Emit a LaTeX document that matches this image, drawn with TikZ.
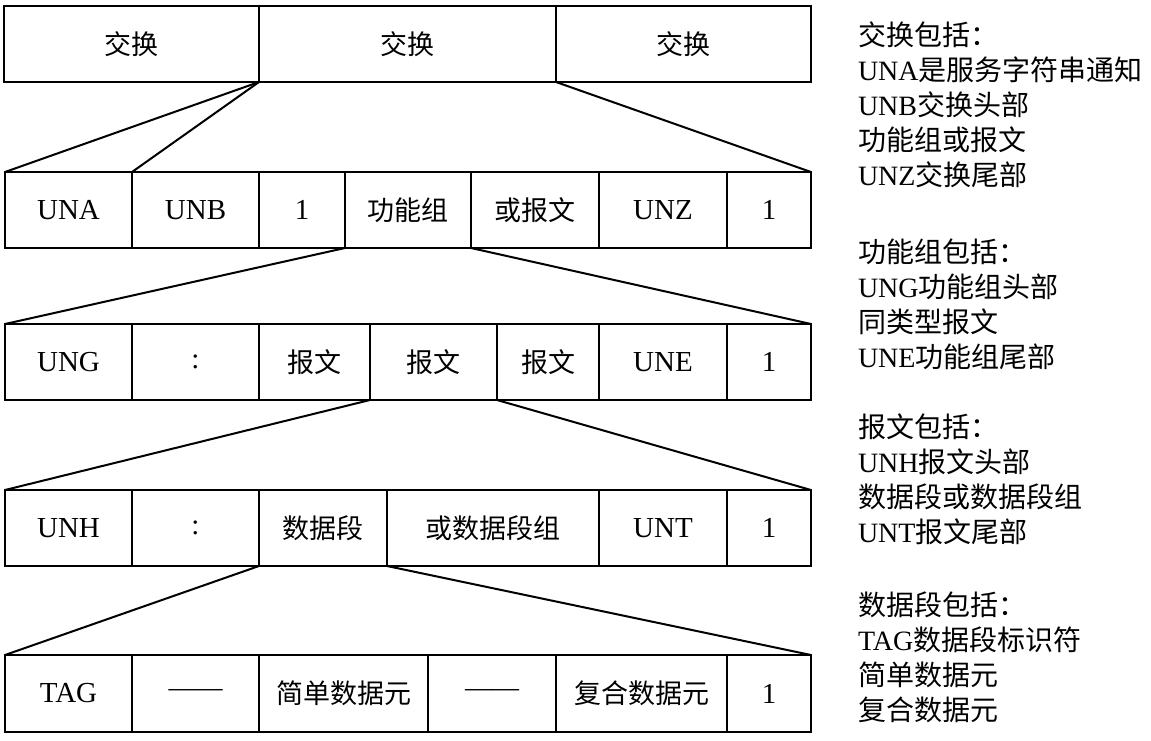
\documentclass[tikz,border=0pt]{standalone}
\usepackage{fontspec}
\setmainfont{Liberation Serif}
\newfontfamily\cjk{Noto Sans CJK SC}
\newcommand\zh[1]{{\cjk #1}}
\newcommand\zc[1]{{\cjk\fontsize{27}{30}\selectfont #1}}
\begin{document}
\begin{tikzpicture}[x=1pt,y=-1pt,
  cell/.style={draw, line width=2pt, inner sep=0pt, outer sep=0pt,
    font=\fontsize{29}{30}\selectfont},
  note/.style={inner sep=0pt, outer sep=0pt, anchor=base west,
    font=\fontsize{28}{35}\selectfont},
  link/.style={line width=2pt}]
\useasboundingbox (0,0) rectangle (1151,740);
\fill[white] (0,0) rectangle (1151,740);
% row 1
\node[cell, minimum width=255, minimum height=76] (r1a) at (131.5,44) {\zc{交换}};
\node[cell, minimum width=297, minimum height=76] (r1b) at (407.5,44) {\zc{交换}};
\node[cell, minimum width=255, minimum height=76] (r1c) at (683.5,44) {\zc{交换}};
% row 2
\node[cell, minimum width=127, minimum height=76] (r2a) at (68.5,210) {UNA};
\node[cell, minimum width=127, minimum height=76] (r2b) at (195.5,210) {UNB};
\node[cell, minimum width=86, minimum height=76] (r2c) at (302,210) {1};
\node[cell, minimum width=126, minimum height=76] (r2d) at (408,210) {\zc{功能组}};
\node[cell, minimum width=128, minimum height=76] (r2e) at (535,210) {\zc{或报文}};
\node[cell, minimum width=128, minimum height=76] (r2f) at (663,210) {UNZ};
\node[cell, minimum width=84, minimum height=76] (r2g) at (769,210) {1};
% row 3
\node[cell, minimum width=127, minimum height=76] (r3a) at (68.5,362) {UNG};
\node[cell, minimum width=127, minimum height=76] (r3b) at (195.5,362) {:};
\node[cell, minimum width=111, minimum height=76] (r3c) at (314.5,362) {\zc{报文}};
\node[cell, minimum width=127, minimum height=76] (r3d) at (433.5,362) {\zc{报文}};
\node[cell, minimum width=102, minimum height=76] (r3e) at (548,362) {\zc{报文}};
\node[cell, minimum width=128, minimum height=76] (r3f) at (663,362) {UNE};
\node[cell, minimum width=84, minimum height=76] (r3g) at (769,362) {1};
% row 4
\node[cell, minimum width=127, minimum height=76] (r4a) at (68.5,528) {UNH};
\node[cell, minimum width=127, minimum height=76] (r4b) at (195.5,528) {:};
\node[cell, minimum width=128, minimum height=76] (r4c) at (323,528) {\zc{数据段}};
\node[cell, minimum width=212, minimum height=76] (r4d) at (493,528) {\zc{或数据段组}};
\node[cell, minimum width=128, minimum height=76] (r4e) at (663,528) {UNT};
\node[cell, minimum width=84, minimum height=76] (r4f) at (769,528) {1};
% row 5
\node[cell, minimum width=127, minimum height=77] (r5a) at (68.5,693.5) {TAG};
\node[cell, minimum width=127, minimum height=77] (r5b) at (195.5,693.5) {\fontsize{27}{30}\selectfont ——};
\node[cell, minimum width=169, minimum height=77] (r5c) at (343.5,693.5) {\zc{简单数据元}};
\node[cell, minimum width=128, minimum height=77] (r5d) at (492,693.5) {\fontsize{27}{30}\selectfont ——};
\node[cell, minimum width=171, minimum height=77] (r5e) at (641.5,693.5) {\zc{复合数据元}};
\node[cell, minimum width=84, minimum height=77] (r5f) at (769,693.5) {1};
% connectors
\draw[link] (r1a.south east) -- (r2a.north west);
\draw[link] (r1a.south east) -- (r2b.north west);
\draw[link] (r1b.south east) -- (r2g.north east);
\draw[link] (r2d.south west) -- (r3a.north west);
\draw[link] (r2d.south east) -- (r3g.north east);
\draw[link] (r3d.south west) -- (r4a.north west);
\draw[link] (r3d.south east) -- (r4f.north east);
\draw[link] (r4c.south west) -- (r5a.north west);
\draw[link] (r4c.south east) -- (r5f.north east);
% notes
\node[note] (n1) at (858,45) {\begin{tabular}[t]{@{}l@{}}\zh{交换包括：}\\UNA\zh{是服务字符串通知}\\UNB\zh{交换头部}\\\zh{功能组或报文}\\UNZ\zh{交换尾部}\end{tabular}};
\node[note] (n2) at (858,262) {\begin{tabular}[t]{@{}l@{}}\zh{功能组包括：}\\UNG\zh{功能组头部}\\\zh{同类型报文}\\UNE\zh{功能组尾部}\end{tabular}};
\node[note] (n3) at (858,437) {\begin{tabular}[t]{@{}l@{}}\zh{报文包括：}\\UNH\zh{报文头部}\\\zh{数据段或数据段组}\\UNT\zh{报文尾部}\end{tabular}};
\node[note] (n4) at (858,615) {\begin{tabular}[t]{@{}l@{}}\zh{数据段包括：}\\TAG\zh{数据段标识符}\\\zh{简单数据元}\\\zh{复合数据元}\end{tabular}};
\end{tikzpicture}
\end{document}
